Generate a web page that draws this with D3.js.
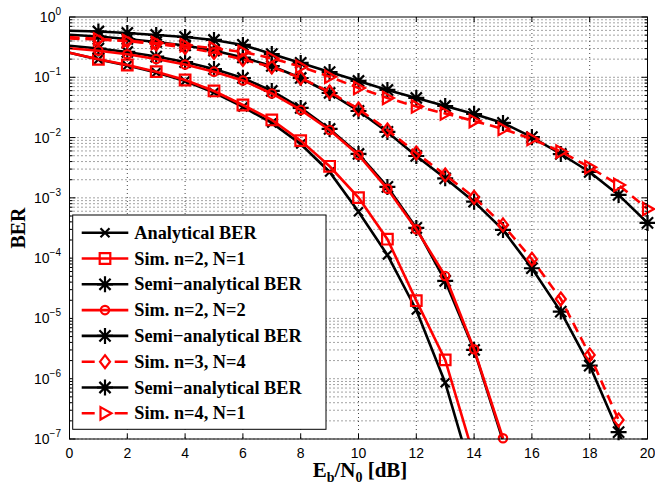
<!DOCTYPE html>
<html><head><meta charset="utf-8">
<script src="https://cdnjs.cloudflare.com/ajax/libs/d3/7.8.5/d3.min.js"></script>
<style>body{margin:0;background:#fff}svg{display:block}</style>
</head><body>
<svg id="chart" width="655" height="492"></svg>
<script>
// ---- data (Eb/N0 in dB, BER) ----
const snr = d3.range(0, 21);
const xTicks = [0, 2, 4, 6, 8, 10, 12, 14, 16, 18, 20];
const yDecades = [-7, -6, -5, -4, -3, -2, -1, 0];

const anaN2N1  = [0.256, 0.197, 0.157, 0.120, 0.0868, 0.0560, 0.0322, 0.0175, 0.00783, 0.00269, 5.9e-4, 1.13e-4, 1.38e-5, 8.6e-7, 1.97e-8];
const simN2N1  = [0.256, 0.199, 0.160, 0.124, 0.0902, 0.0593, 0.0347, 0.0196, 0.00889, 0.00334, 1.01e-3, 2.06e-4, 1.97e-5, 2.05e-6, 5.0e-8];
const semiN2N2 = [0.334, 0.300, 0.263, 0.221, 0.179, 0.137, 0.0974, 0.0593, 0.0310, 0.0139, 0.00535, 0.00152, 3.17e-4, 4.19e-5, 3.0e-6, 9.3e-8];
const simN2N2  = [0.303, 0.276, 0.241, 0.201, 0.163, 0.124, 0.0885, 0.0539, 0.0287, 0.01337, 0.00514, 0.00141, 3.01e-4, 5.07e-5, 3.08e-6, 1.03e-7];
const semiN3N4 = [0.509, 0.475, 0.432, 0.385, 0.337, 0.278, 0.213, 0.154, 0.0974, 0.0549, 0.0276, 0.0124, 0.00495, 0.00211, 8.65e-4, 2.94e-4, 6.8e-5, 1.3e-5, 1.65e-6, 1.30e-7, 6.7e-9];
const simN3N4  = [0.466, 0.432, 0.400, 0.357, 0.312, 0.258, 0.197, 0.148, 0.0974, 0.0571, 0.0298, 0.01337, 0.00556, 0.00240, 0.00102, 3.56e-4, 9.6e-5, 2.1e-5, 2.48e-6, 2.07e-7];
const semiN4N1 = [0.593, 0.575, 0.543, 0.503, 0.466, 0.416, 0.344, 0.243, 0.173, 0.122, 0.0869, 0.0616, 0.0454, 0.0334, 0.0246, 0.0175, 0.0102, 0.00534, 0.00269, 0.00112, 3.84e-4];
const simN4N1  = [0.440, 0.423, 0.400, 0.371, 0.340, 0.303, 0.263, 0.2066, 0.150, 0.1023, 0.0665, 0.0454, 0.0328, 0.0251, 0.0188, 0.0139, 0.00948, 0.00584, 0.00322, 0.00164, 6.55e-4];

const seriesNames = ["Analytical BER", "Sim. n=2, N=1", "Semi\u2212analytical BER", "Sim. n=2, N=2",
                     "Semi\u2212analytical BER", "Sim. n=3, N=4", "Semi\u2212analytical BER", "Sim. n=4, N=1"];
const seriesValues = [anaN2N1, simN2N1, semiN2N2, simN2N2, semiN3N4, simN3N4, semiN4N1, simN4N1];
const seriesColors = ["#000", "#ff0000", "#000", "#ff0000", "#000", "#ff0000", "#000", "#ff0000"];
const seriesDash   = [null, null, null, null, null, "10,6", null, "10,6"];
const seriesMarker = ["x", "square", "star", "circle", "star", "diamond", "star", "triangle"];

// ---- layout ----
const svg = d3.select("#chart");
const L = 69.5, R = 647.5, T = 17, B = 439;
const x = d3.scaleLinear().domain([0, 20]).range([L, R]);
const y = d3.scaleLog().domain([1e-7, 1]).range([B, T]);

svg.append("defs").append("clipPath").attr("id", "clip")
  .append("rect").attr("x", L).attr("y", T).attr("width", R - L).attr("height", B - T);

// grid
const grid = svg.append("g").attr("stroke", "#333").attr("stroke-width", 0.9)
  .attr("stroke-dasharray", "1,3").attr("fill", "none");
const yGridVals = [];
yDecades.forEach(d => { if (d < 0) for (let k = 1; k <= 9; k++) yGridVals.push(k * Math.pow(10, d)); });
yGridVals.forEach(v => grid.append("line").attr("x1", L).attr("x2", R).attr("y1", y(v)).attr("y2", y(v)));
xTicks.slice(1, -1).forEach(t => grid.append("line").attr("x1", x(t)).attr("x2", x(t)).attr("y1", T).attr("y2", B));

// series
const line = d3.line().x((d, i) => x(snr[i])).y(d => y(d));

function markerPath(type) {
  switch (type) {
    case "x": return "M-4.5,-4.5L4.5,4.5M-4.5,4.5L4.5,-4.5";
    case "star": return "M-8,0H8M0,-8V8M-5.6,-5.6L5.6,5.6M-5.6,5.6L5.6,-5.6";
    case "square": return "M-5.3,-5.3H5.3V5.3H-5.3Z";
    case "diamond": return "M0,-6.5L5,0L0,6.5L-5,0Z";
    case "triangle": return "M-4.5,-6.2L6.5,0L-4.5,6.2Z";
  }
  return null;
}
function drawMarker(g, type, cx, cy, color) {
  if (type === "circle") {
    g.append("circle").attr("cx", cx).attr("cy", cy).attr("r", 4.2)
      .attr("fill", "none").attr("stroke", color).attr("stroke-width", 2.2);
  } else {
    g.append("path").attr("d", markerPath(type)).attr("transform", `translate(${cx},${cy})`)
      .attr("fill", "none").attr("stroke", color)
      .attr("stroke-width", 2.2).attr("stroke-linejoin", "miter");
  }
}

seriesValues.forEach((vals, s) => {
  const g = svg.append("g");
  g.append("path").attr("clip-path", "url(#clip)")
    .attr("d", line(vals)).attr("fill", "none")
    .attr("stroke", seriesColors[s]).attr("stroke-width", 2.6)
    .attr("stroke-dasharray", seriesDash[s]);
  vals.forEach((v, i) => {
    if (snr[i] >= 1 && v >= 0.95e-7) drawMarker(g, seriesMarker[s], x(snr[i]), y(v), seriesColors[s]);
  });
});

// frame and ticks
const ax = svg.append("g").attr("stroke", "#000").attr("stroke-width", 1);
ax.append("rect").attr("x", L).attr("y", T).attr("width", R - L).attr("height", B - T).attr("fill", "none");
xTicks.forEach(t => {
  ax.append("line").attr("x1", x(t)).attr("x2", x(t)).attr("y1", B).attr("y2", B - 5);
  ax.append("line").attr("x1", x(t)).attr("x2", x(t)).attr("y1", T).attr("y2", T + 5);
});
yDecades.forEach(d => {
  const v = Math.pow(10, d);
  ax.append("line").attr("x1", L).attr("x2", L + 6).attr("y1", y(v)).attr("y2", y(v));
  ax.append("line").attr("x1", R).attr("x2", R - 6).attr("y1", y(v)).attr("y2", y(v));
  if (d < 0) for (let k = 2; k <= 9; k++) {
    const m = k * v;
    ax.append("line").attr("x1", L).attr("x2", L + 3).attr("y1", y(m)).attr("y2", y(m));
    ax.append("line").attr("x1", R).attr("x2", R - 3).attr("y1", y(m)).attr("y2", y(m));
  }
});

// tick labels
const sans = "Liberation Sans, Arial, Helvetica, sans-serif";
xTicks.forEach(t => {
  svg.append("text").attr("x", x(t)).attr("y", 458).attr("text-anchor", "middle")
    .attr("font-family", sans).attr("font-size", 14).text(t);
});
yDecades.forEach(d => {
  const tx = svg.append("text").attr("x", 61).attr("y", y(Math.pow(10, d)) + 5)
    .attr("text-anchor", "end").attr("font-family", sans).attr("font-size", 14);
  tx.append("tspan").text("10");
  tx.append("tspan").attr("dy", -7).attr("font-size", 10).text(d === 0 ? "0" : "\u2212" + Math.abs(d));
});

// axis labels
const serif = "Liberation Serif, Times New Roman, Times, serif";
svg.append("text").attr("transform", "translate(25,228) rotate(-90)").attr("text-anchor", "middle")
  .attr("font-family", serif).attr("font-weight", "bold").attr("font-size", 20).text("BER");
const xl = svg.append("text").attr("x", 360).attr("y", 477).attr("text-anchor", "middle")
  .attr("font-family", serif).attr("font-weight", "bold").attr("font-size", 21);
xl.append("tspan").text("E");
xl.append("tspan").attr("dy", 5).attr("font-size", 14).text("b");
xl.append("tspan").attr("dy", -5).text("/N");
xl.append("tspan").attr("dy", 5).attr("font-size", 14).text("0");
xl.append("tspan").attr("dy", -5).text(" [dB]");

// legend
const lg = svg.append("g");
lg.append("rect").attr("x", 72.7).attr("y", 215).attr("width", 253.3).attr("height", 214.3)
  .attr("fill", "#fff").attr("stroke", "#000").attr("stroke-width", 1);
seriesNames.forEach((name, s) => {
  const yy = 232.7 + s * 25.8;
  lg.append("line").attr("x1", 81.7).attr("x2", 128.3).attr("y1", yy).attr("y2", yy)
    .attr("stroke", seriesColors[s]).attr("stroke-width", 2.6)
    .attr("stroke-dasharray", seriesDash[s] ? "13,20" : null);
  drawMarker(lg, seriesMarker[s], 105, yy, seriesColors[s]);
  lg.append("text").attr("x", 134.3).attr("y", yy + 6).attr("font-family", serif)
    .attr("font-weight", "bold").attr("font-size", 18.3).attr("fill", "#000").text(name);
});
</script>
</body></html>
